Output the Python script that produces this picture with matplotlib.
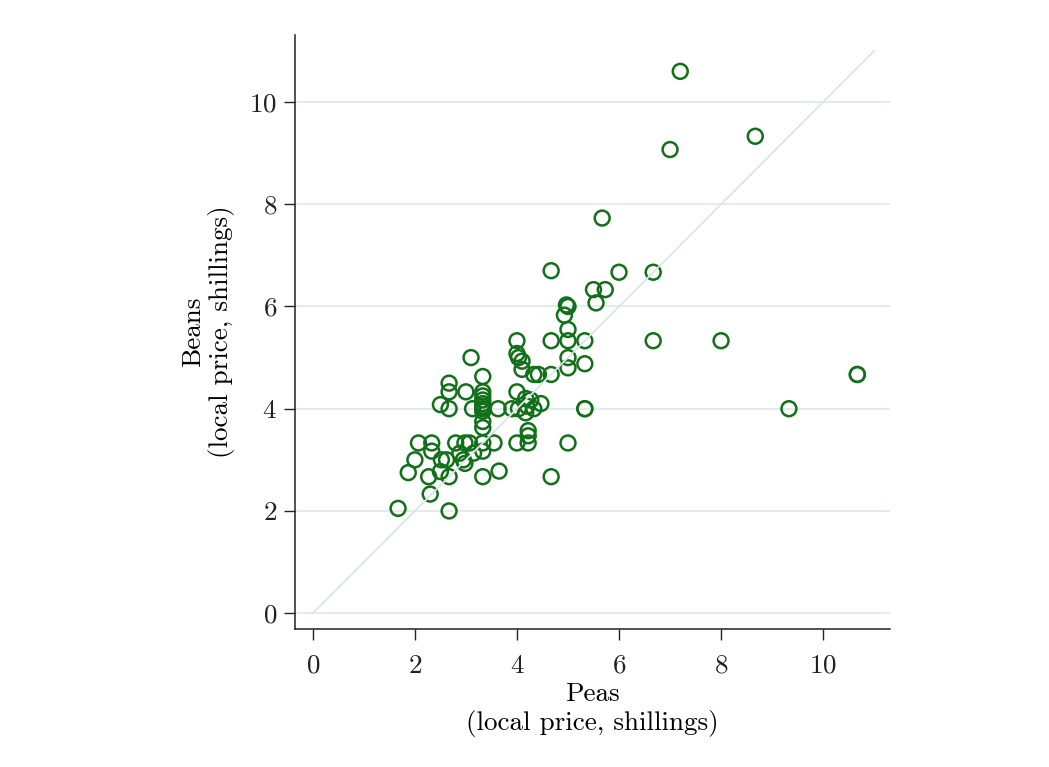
import matplotlib
matplotlib.use('Agg')
import matplotlib.pyplot as plt

plt.rcParams['font.family'] = 'cmr10'
plt.rcParams['axes.unicode_minus'] = False
plt.rcParams['axes.formatter.use_mathtext'] = True

# local prices, shillings
peas = [
    7.2, 8.67, 7.0, 5.67, 4.67, 6.0, 6.67, 5.5, 5.73, 5.55,
    4.97, 5.0, 4.93, 5.0, 4.0, 4.67, 5.0, 5.33, 6.67, 8.0,
    3.1, 4.0, 4.03, 4.1, 5.0, 5.0, 5.33, 4.1, 4.33, 4.42,
    4.67, 10.67, 10.67, 3.33, 2.67, 2.67, 3.0, 3.33, 3.33, 3.33,
    3.33, 3.33, 3.33, 3.33, 4.0, 2.5, 2.67, 3.13, 3.63, 3.9,
    4.03, 4.2, 4.17, 4.27, 4.33, 4.47, 4.17, 5.33, 5.33, 9.33,
    3.33, 3.33, 4.22, 4.22, 2.07, 2.33, 2.8, 2.98, 3.07, 3.33,
    3.55, 4.0, 4.22, 5.0, 2.33, 3.33, 3.15, 2.88, 2.0, 2.52,
    2.62, 2.95, 2.98, 1.87, 2.5, 2.27, 2.67, 3.33, 3.65, 4.67,
    2.3, 1.67, 2.67,
]
beans = [
    10.6, 9.33, 9.07, 7.73, 6.7, 6.67, 6.67, 6.33, 6.33, 6.07,
    6.03, 6.0, 5.83, 5.55, 5.33, 5.33, 5.33, 5.33, 5.33, 5.33,
    5.0, 5.08, 5.0, 4.93, 5.0, 4.8, 4.88, 4.77, 4.67, 4.67,
    4.67, 4.67, 4.67, 4.63, 4.5, 4.33, 4.33, 4.33, 4.25, 4.17,
    4.1, 4.05, 4.0, 3.95, 4.33, 4.08, 4.0, 4.0, 4.0, 4.0,
    4.0, 4.05, 4.2, 4.17, 4.0, 4.1, 3.92, 4.0, 4.0, 4.0,
    3.75, 3.63, 3.57, 3.47, 3.33, 3.33, 3.33, 3.33, 3.33, 3.33,
    3.33, 3.33, 3.33, 3.33, 3.17, 3.17, 3.13, 3.13, 3.0, 3.0,
    3.0, 3.0, 2.93, 2.75, 2.77, 2.67, 2.67, 2.67, 2.78, 2.67,
    2.33, 2.05, 2.0,
]
ticks = [0, 2, 4, 6, 8, 10]

fig = plt.figure(figsize=(10.49, 7.67), dpi=100)
ax = fig.add_axes([0.2812, 0.1799, 0.5672, 0.7744])

# grid lines
for t in ticks:
    ax.axhline(t, color='#e3ebed', linewidth=1.4, zorder=0)

ax.scatter(peas, beans, s=115, facecolors='none', edgecolors='#13701a',
           linewidths=1.8, zorder=2)

# 45-degree reference line
ax.plot([0, 11], [0, 11], color='#dae6e8', linewidth=1.3, zorder=3)

ax.set_xlim(-0.35, 11.31)
ax.set_ylim(-0.31, 11.31)
ax.set_xticks(ticks)
ax.set_yticks(ticks)

for side in ['top', 'right']:
    ax.spines[side].set_visible(False)
for side in ['left', 'bottom']:
    ax.spines[side].set_color('#222222')
    ax.spines[side].set_linewidth(1.1)

ax.tick_params(axis='both', direction='out', length=8, width=1.0,
               colors='#222222', labelsize=19.5, pad=5)
ax.tick_params(axis='x', pad=10)

ax.set_xlabel('Peas\n(local price, shillings)', fontsize=19.5, labelpad=3,
              linespacing=1.2)
ax.set_ylabel('Beans\n(local price, shillings)', fontsize=19.5, labelpad=10,
              linespacing=1.15)

fig.savefig('out.png', dpi=100)
